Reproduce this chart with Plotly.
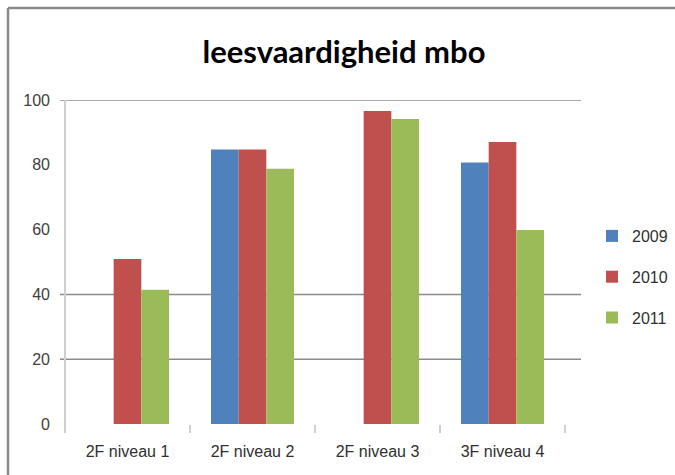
import plotly.graph_objects as go

categories = ["2F niveau 1", "2F niveau 2", "2F niveau 3", "3F niveau 4"]
years = ["2009", "2010", "2011"]
values_2009 = [None, 84.7, None, 80.7]
values_2010 = [50.9, 84.7, 96.6, 87.0]
values_2011 = [41.4, 78.8, 94.1, 59.9]
colors = ["#4F81BD", "#C0504D", "#9BBB59"]
y_ticks = [0, 20, 40, 60, 80, 100]
grid_levels = [20, 40, 100]

fig = go.Figure()
for name, vals, col in zip(years, [values_2009, values_2010, values_2011], colors):
    fig.add_trace(go.Bar(
        x=categories, y=vals, name=name, legendgroup=name,
        marker=dict(color=col, line=dict(width=0)),
    ))

shapes = []
for g in grid_levels:
    shapes.append(dict(type="line", xref="paper", yref="y", x0=-0.01, x1=1.032,
                       y0=g, y1=g, line=dict(color="#8c8c8c", width=1.5), layer="below"))
# y axis line
shapes.append(dict(type="line", xref="paper", yref="paper", x0=0, x1=0, y0=-0.025, y1=1.0,
                   line=dict(color="#cfcfcf", width=2), layer="below"))
# outer frame: top and left edges only (the rest lies outside the picture)
shapes.append(dict(type="line", xref="paper", yref="paper", x0=-0.114, x1=1.22, y0=1.284, y1=1.284,
                   line=dict(color="#8a8a8a", width=2.5)))
shapes.append(dict(type="line", xref="paper", yref="paper", x0=-0.114, x1=-0.114, y0=-0.2, y1=1.284,
                   line=dict(color="#8a8a8a", width=2.5)))

W, H = 675, 475
fig.update_layout(
    width=W, height=H,
    margin=dict(l=65, r=110, t=100, b=51),
    paper_bgcolor="white", plot_bgcolor="white",
    barmode="group", bargap=0.336, bargroupgap=0,
    title=dict(text="<b>leesvaardigheid mbo</b>", x=344 / W, xanchor="center",
               y=1 - 52 / H, yanchor="middle",
               font=dict(family="Lato", size=31, color="#000000")),
    font=dict(family="Liberation Sans", size=14, color="#404040"),
    xaxis=dict(showline=False, showgrid=False, ticks="outside", tickson="boundaries",
               ticklen=8, tickcolor="#cfcfcf", tickwidth=1.5, ticklabelstandoff=16,
               automargin=False,
               tickfont=dict(family="Liberation Sans", size=16, color="#303030")),
    yaxis=dict(range=[0, 100], tickvals=y_ticks, showgrid=False, zeroline=False, showline=False,
               ticks="", ticklabelstandoff=14, automargin=False,
               tickfont=dict(family="Liberation Sans", size=16, color="#404040")),
    legend=dict(xref="container", yref="container", x=592 / W, y=1 - 277 / H,
                xanchor="left", yanchor="middle", tracegroupgap=17,
                font=dict(family="Liberation Sans", size=16, color="#303030"),
                itemwidth=30),
    shapes=shapes,
)

fig.write_html(
    "out.html",
    config={"displayModeBar": False},
    post_script="document.body.style.margin='0';document.body.style.overflow='hidden';",
)
